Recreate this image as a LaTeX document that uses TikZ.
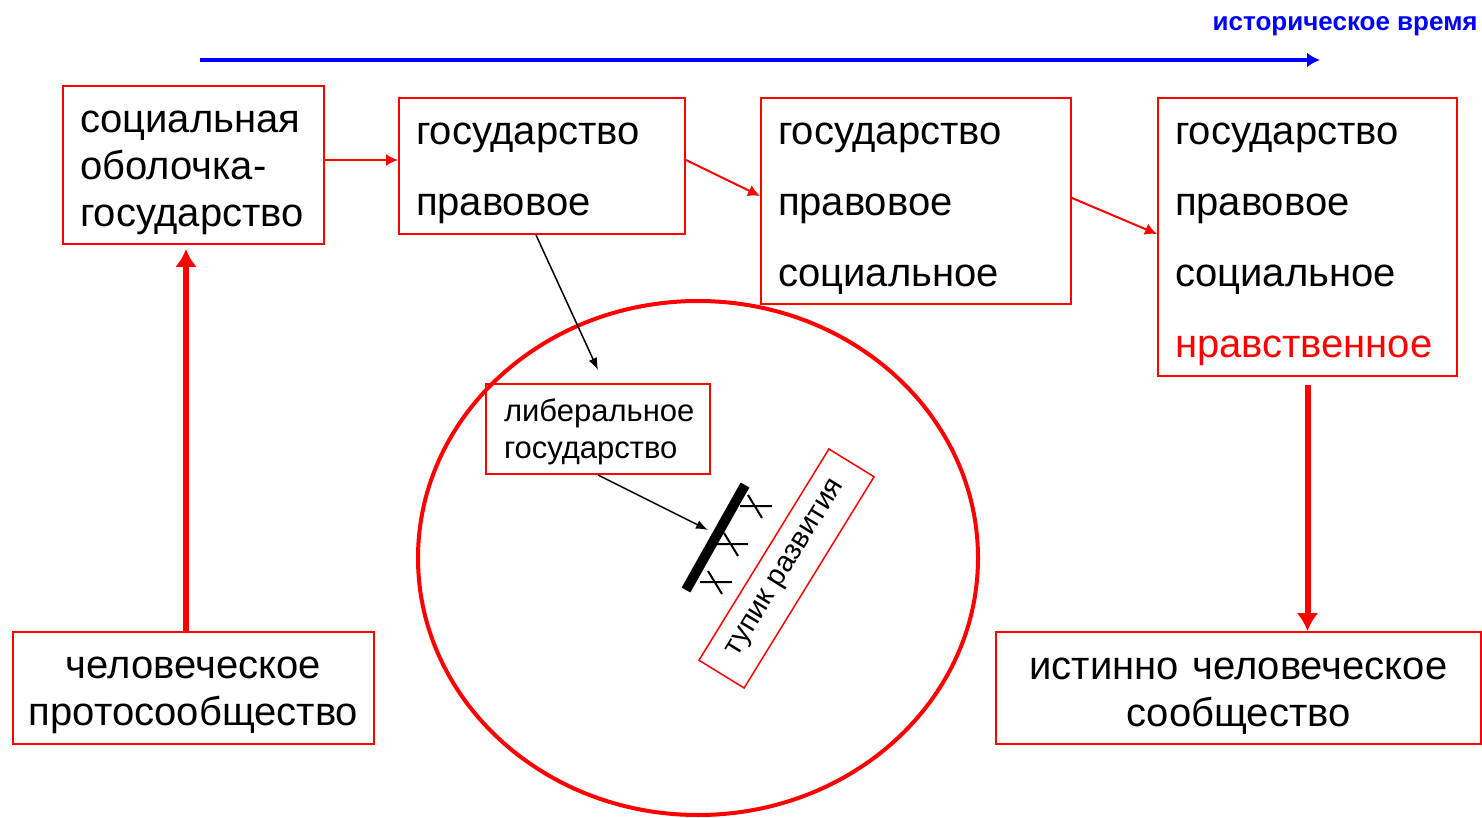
\documentclass[tikz,border=0pt]{standalone}
\usepackage{fontspec}
\setmainfont{Liberation Sans}
\usetikzlibrary{positioning,arrows.meta}
\tikzset{
  stagebox/.style={draw=red, line width=1pt, anchor=north west, align=left, inner xsep=8.5pt, inner ysep=0pt, font=\fontsize{20}{35.5}\selectfont, execute at begin node={\rule{0pt}{18.5pt}}},
  tight/.style={font=\fontsize{20}{23.5}\selectfont},
  endbox/.style={draw=red, line width=1pt, anchor=north west, align=center, inner sep=0pt, font=\fontsize{20}{23.5}\selectfont, execute at begin node={\rule{0pt}{18.5pt}}},
  smallbox/.style={draw=red, line width=1pt, anchor=north west, align=left, inner xsep=9pt, inner ysep=0pt, font=\fontsize{15.5}{18.5}\selectfont, execute at begin node={\rule{0pt}{14.5pt}}},
  deadbox/.style={draw=red, line width=0.75pt, inner sep=0pt, minimum width=124pt, minimum height=26.5pt, font=\fontsize{14.5}{17}\selectfont},
  fwd/.style={-{Latex[length=6pt,width=6pt]}, red, line width=1pt},
  bigfwd/.style={-{Latex[length=9pt,width=11pt]}, red, line width=3pt},
  pointer/.style={-{Latex[length=6pt,width=4.5pt]}, black, line width=0.75pt},
  timeline/.style={-{Latex[length=6.5pt,width=7.5pt]}, blue, line width=2pt},
  barrier/.style={line width=5pt},
  hatch/.style={line width=1pt},
}

\begin{document}
\begin{tikzpicture}[x=0.5pt, y=-0.5pt]
\useasboundingbox (0,0) rectangle (1482,818);

%Circle
\draw[red, line width=2pt] (698,558) ellipse [x radius=280, y radius=257];

%Nodes
\node[blue, font=\fontsize{13}{15}\selectfont\bfseries, anchor=east, inner sep=0pt] (timelabel) at (1478,26) {историческое время};
\coordinate (tstart) at (200,60);
\coordinate (tend) at (1320,60);

\node[stagebox, tight, text width=113.5pt, minimum height=79pt] (shell) at (62,85) {социальная\\оболочка-\\государство};
\node[stagebox, text width=126pt, minimum height=68pt] (legal) at (398,97) {государство\\правовое};
\node[stagebox, text width=138pt, minimum height=103pt] (social) at (760,97) {государство\\правовое\\социальное};
\node[stagebox, text width=132.5pt, minimum height=139pt] (moral) at (1157,97) {государство\\правовое\\социальное\\\textcolor{red}{нравственное}};
\node[endbox, text width=180.5pt, minimum height=56pt] (proto) at (12,631) {человеческое\\протосообщество};
\node[endbox, text width=242.5pt, minimum height=56pt] (society) at (995,631) {истинно человеческое\\сообщество};
\node[smallbox, text width=94pt, minimum height=45pt] (liberal) at (485,383) {либеральное\\государство};
\node[deadbox, rotate=58.4] (deadend) at (786.5,568.5) {тупик развития};

%Barrier
\coordinate (barlow) at (686,590);
\coordinate (bartop) at (745,485);
\coordinate (hit) at (708,530);
\draw[barrier] (barlow) -- (bartop);
\foreach \x/\y in {700/582, 716/544, 740/506}
  \draw[hatch] (\x,\y) -- ++(32,0) (\x+8,\y-11) -- (\x+22,\y+12);

%Lines
\draw[timeline] (tstart) -- (tend);
\draw[fwd] ([yshift=2.5pt]shell.east) -- ([yshift=2.5pt]shell.east -| legal.west);
\draw[fwd] ([yshift=3pt]legal.east) -- ([yshift=2.5pt]social.west);
\draw[fwd] ([yshift=1.5pt]social.east) -- ([yshift=1.5pt]moral.west);
\draw[bigfwd] ([xshift=-3.75pt]proto.north) -- ([xshift=-3.75pt, yshift=-2pt]shell.south);
\draw[bigfwd] ([yshift=-4pt]moral.south) -- (moral.south |- society.north);
\draw[pointer] ([xshift=-3pt]legal.south) -- ([yshift=6.5pt]liberal.north);
\draw[pointer] (liberal.south) -- (hit);
\end{tikzpicture}
\end{document}
